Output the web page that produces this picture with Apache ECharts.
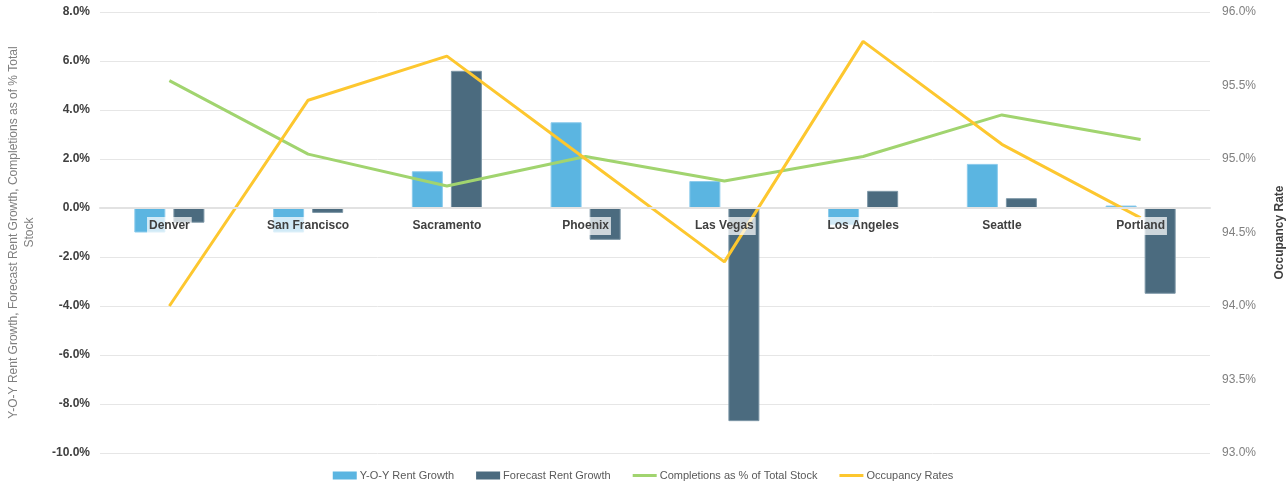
<!DOCTYPE html>
<html>
<head>
<meta charset="utf-8">
<script src="https://cdn.jsdelivr.net/npm/echarts@6/dist/echarts.min.js"></script>
<style>html,body{margin:0;padding:0;background:#fff}#c{width:1286px;height:490px}</style>
</head>
<body>
<div id="c"></div>
<script>
var categories = ['Denver','San Francisco','Sacramento','Phoenix','Las Vegas','Los Angeles','Seattle','Portland'];
var yoyRentGrowth = [-1.0, -1.0, 1.5, 3.5, 1.1, -0.7, 1.8, 0.1];
var forecastRentGrowth = [-0.6, -0.2, 5.6, -1.3, -8.7, 0.7, 0.4, -3.5];
var completionsPct = [5.2, 2.2, 0.9, 2.1, 1.1, 2.1, 3.8, 2.8];
var occupancyRates = [94.0, 95.4, 95.7, 95.0, 94.3, 95.8, 95.1, 94.6];
var seriesNames = ['Y-O-Y Rent Growth','Forecast Rent Growth','Completions as % of Total Stock','Occupancy Rates'];
var leftAxisName = 'Y-O-Y Rent Growth, Forecast Rent Growth, Completions as of % Total\nStock';
var rightAxisName = 'Occupancy Rate';

var FONT = 'Liberation Sans';
var LINE_ICON = 'path://M0,0H24V3H0Z';
var chart = echarts.init(document.getElementById('c'), null, {renderer:'canvas'});
chart.setOption({
  animation: false,
  textStyle: {fontFamily: FONT},
  grid: {left: 100, right: 76, top: 12, bottom: 37, containLabel: false, outerBoundsMode: 'none'},
  legend: {
    bottom: 4, left: 'center', itemWidth: 24, itemHeight: 8, itemGap: 22,
    itemStyle: {borderWidth: 0},
    textStyle: {color: '#595959', fontSize: 11, fontFamily: FONT, padding: [0, 0, 0, -2]},
    data: [
      {name: seriesNames[0], icon: 'rect'},
      {name: seriesNames[1], icon: 'rect'},
      {name: seriesNames[2], icon: LINE_ICON},
      {name: seriesNames[3], icon: LINE_ICON}
    ]
  },
  xAxis: {
    type: 'category', data: categories, z: 20, position: 'bottom',
    axisLine: {onZero: false, lineStyle: {color: '#e2e2e2', width: 2}},
    axisTick: {show: false},
    axisLabel: {
      color: '#404040', fontWeight: 'bold', fontSize: 12, fontFamily: FONT, margin: 9,
      backgroundColor: 'rgba(255,255,255,0.72)', padding: [3, 2, 3, 2]
    }
  },
  yAxis: [{
    type: 'value', min: -10, max: 8, interval: 2,
    name: leftAxisName, nameLocation: 'middle', nameRotate: 90, nameGap: 62,
    nameTextStyle: {color: '#7f7f7f', fontSize: 12, fontFamily: FONT, lineHeight: 16},
    axisLabel: {color: '#404040', fontWeight: 'bold', fontSize: 12, margin: 10,
      formatter: function (v) { return v.toFixed(1) + '%'; }},
    axisLine: {show: false, onZero: false}, axisTick: {show: false},
    splitLine: {lineStyle: {color: '#e6e6e6', width: 1}}
  }, {
    type: 'value', min: 93, max: 96, interval: 0.5,
    name: rightAxisName, nameLocation: 'middle', nameRotate: 90, nameGap: 64,
    nameTextStyle: {color: '#404040', fontWeight: 'bold', fontSize: 12, fontFamily: FONT},
    axisLabel: {color: '#808080', fontSize: 12, margin: 12,
      formatter: function (v) { return v.toFixed(1) + '%'; }},
    axisLine: {show: false, onZero: false}, axisTick: {show: false},
    splitLine: {show: false}
  }],
  series: [{
    name: seriesNames[0], type: 'bar', data: yoyRentGrowth, barWidth: 31, barGap: '26%',
    itemStyle: {color: '#5bb5e1', borderColor: '#8ccbec', borderWidth: 1}
  }, {
    name: seriesNames[1], type: 'bar', data: forecastRentGrowth, barWidth: 31,
    itemStyle: {color: '#4b6b7f', borderColor: '#7c96a6', borderWidth: 1}
  }, {
    name: seriesNames[2], type: 'line', data: completionsPct, showSymbol: false, symbol: 'none',
    lineStyle: {color: '#a1d46f', width: 3}, itemStyle: {color: '#a1d46f'}
  }, {
    name: seriesNames[3], type: 'line', yAxisIndex: 1, data: occupancyRates, showSymbol: false, symbol: 'none',
    lineStyle: {color: '#fdc72f', width: 3}, itemStyle: {color: '#fdc72f'}
  }]
});
// Move the category axis onto the value axis's zero, using the library's own scale.
var zeroPx = chart.convertToPixel({yAxisIndex: 0}, 0);
var bottomPx = chart.convertToPixel({yAxisIndex: 0}, -10);
chart.setOption({xAxis: {offset: zeroPx - bottomPx}});
</script>
</body>
</html>
